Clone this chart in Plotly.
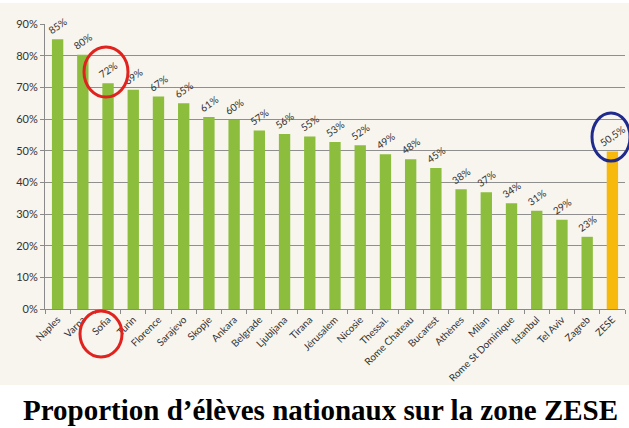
import plotly.graph_objects as go

cities = ["Naples", "Varna", "Sofia", "Turin", "Florence", "Sarajevo", "Skopje", "Ankara",
          "Belgrade", "Ljubljana", "Tirana", "Jérusalem", "Nicosie", "Thessal.", "Rome Chateau",
          "Bucarest", "Athènes", "Milan", "Rome St Dominique", "Istanbul", "Tel Aviv", "Zagreb", "ZESE"]
values = [85.2, 80.3, 71.3, 69.2, 67.1, 65.0, 60.6, 59.7, 56.4, 55.3, 54.5, 52.7, 51.7, 48.9,
          47.3, 44.5, 37.8, 36.9, 33.4, 31.0, 28.2, 22.8, 49.7]
labels = ["85%", "80%", "72%", "69%", "67%", "65%", "61%", "60%", "57%", "56%", "55%", "53%",
          "52%", "49%", "48%", "45%", "38%", "37%", "34%", "31%", "29%", "23%", "50,5%"]
y_ticks = [0, 10, 20, 30, 40, 50, 60, 70, 80, 90]

W, H = 629, 428
L, R, T, B = 45, 4, 24, 119
PW, PH = W - L - R, H - T - B

def px(x, y):
    return (x - L) / PW, (H - B - y) / PH

colors = ["#8cbd3c"] * (len(cities) - 1) + ["#f7b90c"]

fig = go.Figure(go.Bar(
    x=cities, y=values, marker=dict(color=colors, line=dict(width=0)),
    text=labels, textposition="outside", textangle=-35, cliponaxis=False,
    constraintext="none",
    textfont=dict(family="Lato", size=10, color="#333333"),
    outsidetextfont=dict(family="Lato", size=10, color="#333333"),
))

shapes = []
# scanned paper background
x0, y0 = px(0, 3); x1, y1 = px(W, 385)
shapes.append(dict(type="rect", xref="paper", yref="paper", x0=x0, y0=y1, x1=x1, y1=y0,
                   fillcolor="#f7f5ee", line=dict(width=0), layer="below"))
def circle(xa, ya, xb, yb, color):
    a, b = px(xa, ya); c, d = px(xb, yb)
    return dict(type="circle", xref="paper", yref="paper", x0=a, x1=c, y0=d, y1=b,
                line=dict(color=color, width=3), layer="above")
shapes.append(circle(84, 47, 128, 97, "#e0231f"))
shapes.append(circle(80, 311, 122, 357, "#e0231f"))
shapes.append(circle(592, 113, 630, 161, "#1f2a8c"))

tx, ty = px(320, 410)
fig.update_layout(
    width=W, height=H, margin=dict(l=L, r=R, t=T, b=B, autoexpand=False),
    paper_bgcolor="white", plot_bgcolor="rgba(0,0,0,0)",
    bargap=0.55, showlegend=False, shapes=shapes,
    font=dict(family="Lato", size=10, color="#333333"),
    xaxis=dict(tickangle=-45, showgrid=False, showline=True, linecolor="#8a8a8a", linewidth=1,
               ticks="outside", tickson="boundaries", ticklen=4, tickcolor="#8a8a8a",
               tickfont=dict(family="Lato", size=10, color="#333333")),
    yaxis=dict(range=[0, 90], tickvals=y_ticks, ticktext=[f"{v}%" for v in y_ticks],
               showgrid=True, gridcolor="#8f8f8f", gridwidth=1, showline=True,
               linecolor="#8a8a8a", ticks="outside", ticklen=4, tickcolor="#8a8a8a",
               zeroline=False, tickfont=dict(family="Lato", size=11, color="#333333")),
    annotations=[dict(text="<b>Proportion d’élèves nationaux sur la zone ZESE</b>",
                      xref="paper", yref="paper", x=tx, y=ty, xanchor="center", yanchor="middle",
                      showarrow=False, font=dict(family="Liberation Serif", size=29, color="black"))],
)
fig.write_html("out.html", config={"displayModeBar": False},
               post_script="document.body.style.margin='0';document.body.style.padding='0';")
